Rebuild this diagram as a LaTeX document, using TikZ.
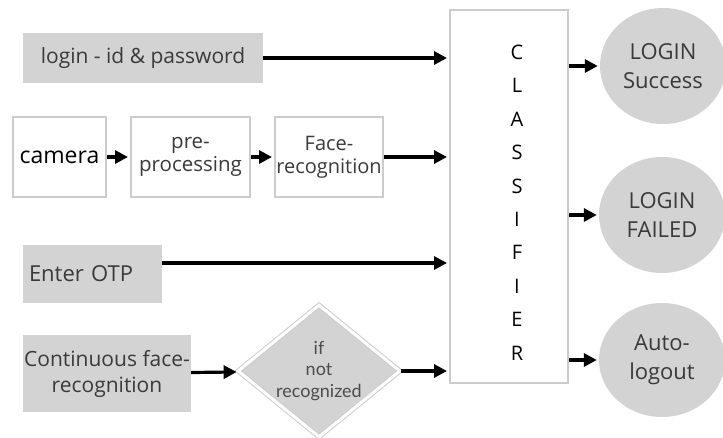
\documentclass[tikz,border=0pt]{standalone}
\usepackage{fontspec}
\setmainfont{Open Sans}
\newfontfamily\latofont{Lato}
\usepackage{tikz}
\usetikzlibrary{arrows.meta,positioning,shapes.geometric}
\definecolor{boxgrey}{HTML}{D3D3D3}
\definecolor{edgegrey}{HTML}{CCCCCC}
\definecolor{txtgrey}{HTML}{3A3A3A}

\begin{document}
\begin{tikzpicture}[x=1pt,y=-1pt,>={Triangle[length=13pt,width=13pt]},shorten >=2pt,
  font=\fontsize{21}{26}\selectfont,
  flow/.style={->,line width=3.2pt},
  greybox/.style={fill=boxgrey,text=txtgrey,inner sep=0pt,align=center},
  whitebox/.style={draw=edgegrey,line width=2pt,fill=white,text=txtgrey,
    inner sep=0pt,align=center,minimum height=80pt},
  decide/.style={diamond,shape aspect=1.23,fill=boxgrey,draw=edgegrey,line width=1pt,
    double=white,double distance=3pt,inner sep=0pt,align=center,text=black!70,
    minimum width=162pt,minimum height=132pt,font=\latofont\fontsize{18}{21.5}\selectfont},
  outcircle/.style={ellipse,fill=boxgrey,text=txtgrey,inner sep=0pt,align=center,
    minimum width=126pt,minimum height=116pt,font=\fontsize{22}{29}\selectfont}]

\useasboundingbox (0,0) rectangle (723,438);

% inputs
\node[greybox,minimum width=240pt,minimum height=50pt] (login) at (143,58) {login - id \& password};
\node[whitebox,minimum width=93pt,text=black,font=\fontsize{23}{26}\selectfont] (camera) at (59.5,157) {camera};
\node[whitebox,minimum width=119pt,font=\fontsize{20.5}{23}\selectfont] (prep) at (190.5,157) {pre-\\processing};
\node[whitebox,minimum width=108pt,font=\fontsize{20}{23}\selectfont] (face) at (329,157) {Face-\\recognition};
\node[greybox,text width=127pt,align=left,inner xsep=6pt,minimum height=58pt,
  font=\fontsize{22}{26}\selectfont] (otp) at (92.5,274) {Enter OTP};
\node[greybox,minimum width=168pt,minimum height=77pt] (cont) at (107,373.5) {Continuous face-\\recognition};
\node[decide] (check) at (319,371) {if\\not\\recognized};

% classifier
\node[whitebox,minimum width=118pt,minimum height=373pt] (clf) at (509,196.5) {};
\node[text=black,align=center,font=\fontsize{20}{33.4}\selectfont] (clfname) at (517,202.5)
  {C\\L\\A\\S\\S\\I\\F\\I\\E\\R};

% results
\node[outcircle] (success) at (663,66) {LOGIN\\Success};
\node[outcircle] (failed) at (662,215) {LOGIN\\FAILED};
\node[outcircle,minimum height=114pt] (logout) at (662,360) {Auto-\\logout};

\path[flow]
  (login) edge (login -| clf.west)
  (camera) edge (prep)
  (prep) edge (face)
  (face) edge (face -| clf.west)
  ([yshift=11pt]otp.east) edge ([yshift=11pt]otp.east -| clf.west)
  (cont) edge (check)
  (check) edge (check -| clf.west)

  (clf.east |- success) edge (success)
  (clf.east |- failed) edge (failed)
  (clf.east |- logout) edge (logout)
;
\end{tikzpicture}
\end{document}
